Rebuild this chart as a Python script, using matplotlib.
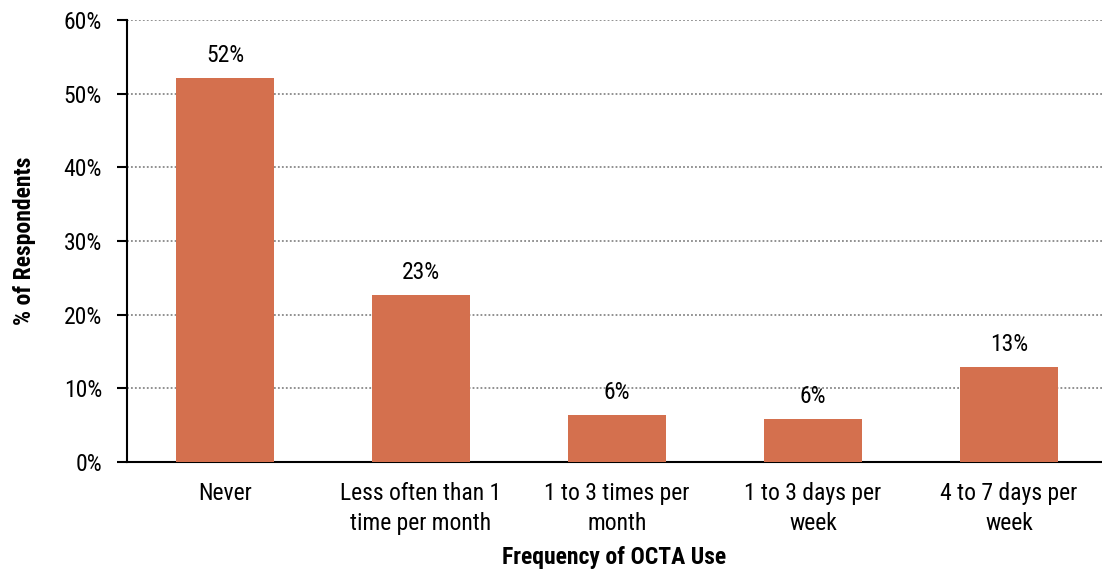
import matplotlib.pyplot as plt
from matplotlib.ticker import FuncFormatter

categories = ["Never", "Less often than 1\ntime per month", "1 to 3 times per\nmonth",
              "1 to 3 days per\nweek", "4 to 7 days per\nweek"]
values = [52.1, 22.7, 6.4, 5.8, 12.9]
labels = ["52%", "23%", "6%", "6%", "13%"]

plt.rcParams['font.family'] = ['Roboto Condensed', 'Liberation Sans', 'DejaVu Sans']

fig = plt.figure(figsize=(11.02, 5.82), dpi=100)
ax = fig.add_axes([127/1102, 1 - 462/582, (1102 - 127)/1102, (462 - 20)/582])

x = list(range(len(categories)))
ax.bar(x, values, width=0.5, color="#D4704E", zorder=3)

# value labels above bars
for xi, v, lab in zip(x, values, labels):
    ax.annotate(lab, (xi, v), xytext=(0, 8), textcoords="offset points",
                ha="center", va="bottom", fontsize=17)

ax.set_ylim(0, 60)
ax.set_xlim(-0.5, -0.5 + (1102 - 127) / 196)
ax.set_yticks(range(0, 61, 10))
ax.yaxis.set_major_formatter(FuncFormatter(lambda v, p: f"{int(v)}%"))
ax.yaxis.grid(True, linestyle=(0, (1, 1.2)), color="#888888", linewidth=1.3, zorder=0)

ax.set_xticks(x)
ax.set_xticklabels(categories, fontsize=17, linespacing=1.38)
ax.tick_params(axis="x", length=0, pad=14.5)
ax.tick_params(axis="y", length=7, width=1.5, labelsize=17, pad=11)

for s in ["top", "right"]:
    ax.spines[s].set_visible(False)
ax.spines["left"].set_linewidth(1.5)
ax.spines["bottom"].set_linewidth(1.5)

ax.set_xlabel("Frequency of OCTA Use", fontsize=17, fontweight="bold", labelpad=8)
ax.set_ylabel("% of Respondents", fontsize=17, fontweight="bold", labelpad=20)

fig.savefig("out.png", dpi=100)
